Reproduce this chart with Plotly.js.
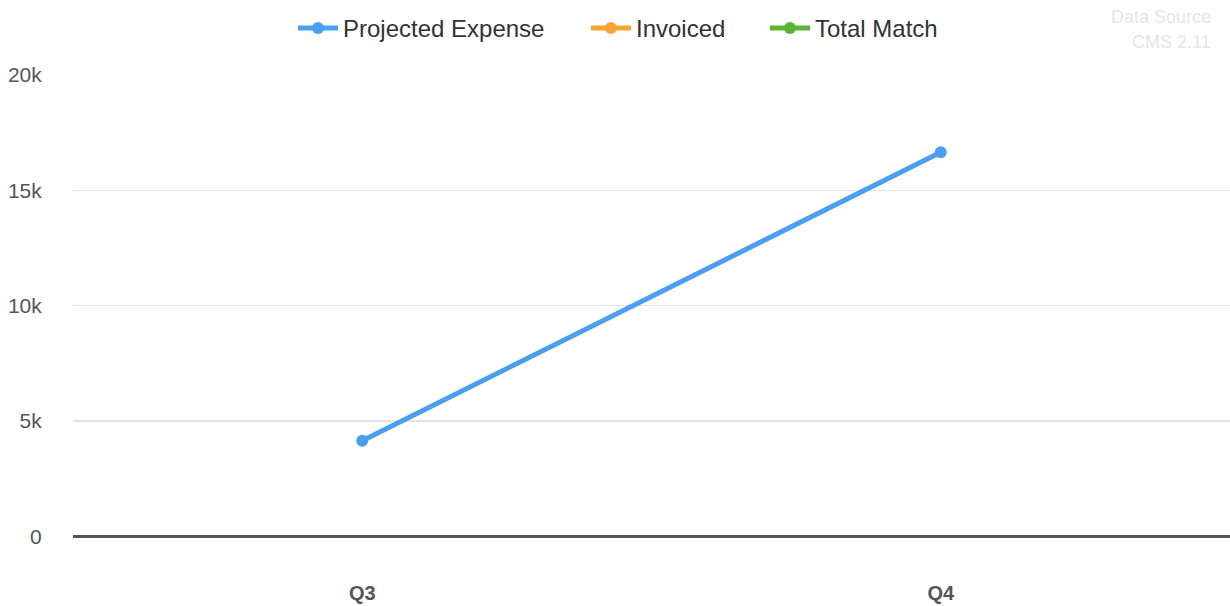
<!DOCTYPE html>
<html>
<head>
<meta charset="utf-8">
<script src="https://cdn.plot.ly/plotly-3.0.1.min.js"></script>
<style>
html,body{margin:0;padding:0;background:#fff;}
#chart{width:1230px;height:606px;}
</style>
</head>
<body>
<div id="chart"></div>
<script>
const categories = ["Q3", "Q4"];
const projectedExpense = [4150, 16650];
const invoiced = [null, null];
const totalMatch = [null, null];
const yTickVals = [0, 5000, 10000, 15000, 20000];
const yTickText = ["0", "5k", "10k", "15k", "20k"];

const traces = [
  {x: categories, y: projectedExpense, name: "Projected Expense", type: "scatter", mode: "lines+markers",
   line: {color: "#4a9ff2", width: 5}, marker: {color: "#4a9ff2", size: 12}, legend: "legend"},
  {x: categories, y: invoiced, name: "Invoiced", type: "scatter", mode: "lines+markers",
   line: {color: "#f7a530", width: 5}, marker: {color: "#f7a530", size: 12}, legend: "legend2"},
  {x: categories, y: totalMatch, name: "Total Match", type: "scatter", mode: "lines+markers",
   line: {color: "#5cb531", width: 5}, marker: {color: "#5cb531", size: 12}, legend: "legend3"}
];

function leg(px) {
  return {orientation: "h", x: px / 1230, xref: "container", xanchor: "left", y: 1 - 6 / 606, yref: "container", yanchor: "top",
    font: {size: 24, color: "#333"}, itemwidth: 40, bgcolor: "rgba(0,0,0,0)"};
}

const layout = {
  width: 1230, height: 606,
  margin: {l: 73, r: 0, t: 75, b: 35},
  paper_bgcolor: "#fff", plot_bgcolor: "#fff",
  font: {family: "Liberation Sans, Arial, sans-serif", color: "#555"},
  showlegend: true,
  legend: leg(293),
  legend2: leg(586),
  legend3: leg(765),
  xaxis: {type: "category", range: [-0.5, 1.5], showgrid: false, zeroline: false, showline: false,
    ticks: "outside", ticklen: 4, tickcolor: "rgba(0,0,0,0)",
    tickfont: {size: 20, color: "#555", family: "Liberation Sans, Arial, sans-serif", weight: "bold"}, fixedrange: true},
  yaxis: {range: [-1500, 20000], tickvals: yTickVals, ticktext: yTickText, showgrid: true, gridcolor: "#e3e3e3", gridwidth: 1.5,
    zeroline: true, zerolinecolor: "#555", zerolinewidth: 3, showline: false,
    ticks: "outside", ticklen: 26, tickcolor: "rgba(0,0,0,0)",
    tickfont: {size: 21, color: "#555"}, fixedrange: true},
  annotations: [
    {text: "Data Source", xref: "paper", yref: "paper", x: 0.985, y: 1.117, xanchor: "right", yanchor: "middle",
     showarrow: false, font: {size: 18, color: "#e6e6e6"}},
    {text: "CMS 2.11", xref: "paper", yref: "paper", x: 0.985, y: 1.0665, xanchor: "right", yanchor: "middle",
     showarrow: false, font: {size: 18, color: "#e6e6e6"}}
  ]
};

Plotly.newPlot("chart", traces, layout, {displayModeBar: false, staticPlot: true});
</script>
</body>
</html>
